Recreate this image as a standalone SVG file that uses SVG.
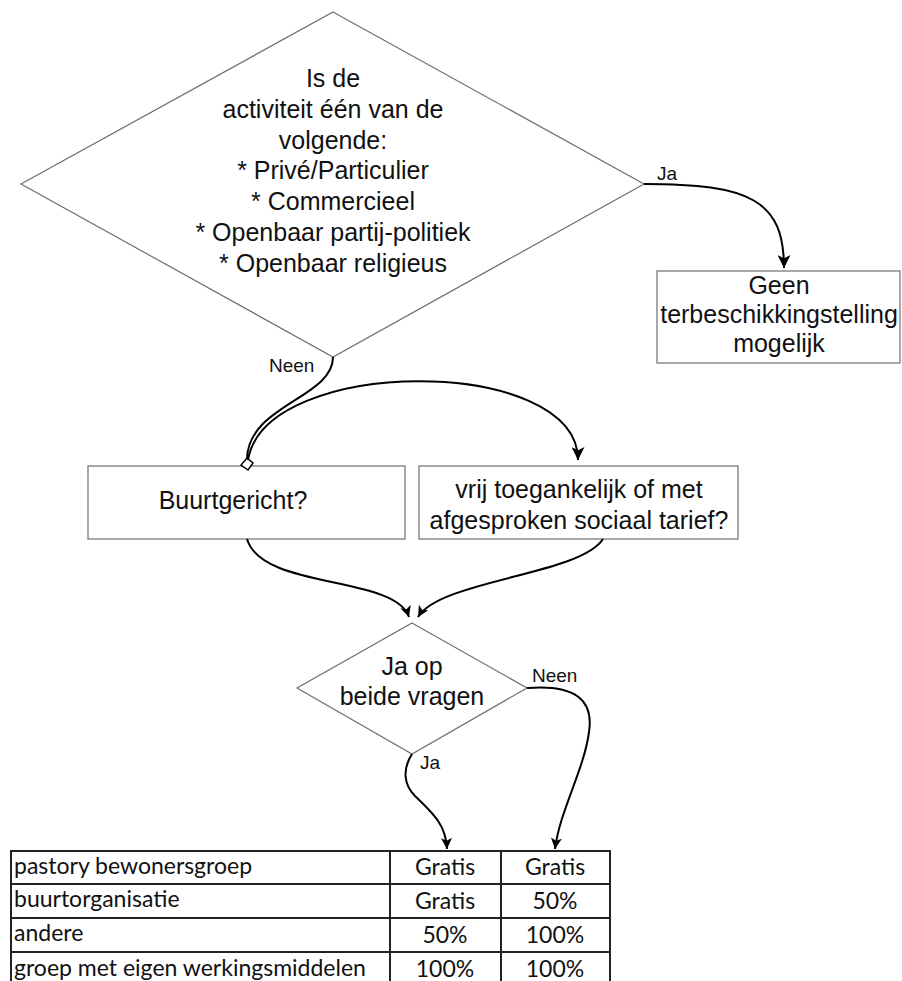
<svg xmlns="http://www.w3.org/2000/svg" width="902" height="981" viewBox="0 0 902 981">
<style>
.node{fill:#fff;stroke:#6e6e6e;stroke-width:1.2}
.t{font-family:"Liberation Sans",Arial,sans-serif;font-size:25px;fill:#111;text-anchor:middle}
.lbl{font-family:"Liberation Sans",Arial,sans-serif;font-size:19px;fill:#111}
.edge{fill:none;stroke:#000;stroke-width:2}
.tb{fill:none;stroke:#222;stroke-width:2}
.tt{font-family:Lato,"Open Sans",sans-serif;font-size:23px;fill:#111}
.tc{text-anchor:middle}
</style>
<defs>
<marker id="arr" viewBox="0 0 12 12" refX="12" refY="6" markerWidth="13" markerHeight="13" markerUnits="userSpaceOnUse" orient="auto">
<path d="M0,0 L12,6 L0,12 L3,6 z" fill="#000"/>
</marker>
<marker id="arrs" viewBox="0 0 12 12" refX="12" refY="6" markerWidth="11" markerHeight="11" markerUnits="userSpaceOnUse" orient="auto">
<path d="M0,0 L12,6 L0,12 L3,6 z" fill="#000"/>
</marker>
</defs>
<rect width="902" height="981" fill="#fff"/>

<g id="decision-activiteit">
<polygon class="node" points="333,12 644,184 333,357 21,184"/>
<text class="t" x="333" y="87">Is de</text>
<text class="t" x="333" y="118">activiteit één van de</text>
<text class="t" x="333" y="149">volgende:</text>
<text class="t" x="333" y="179">* Privé/Particulier</text>
<text class="t" x="333" y="210">* Commercieel</text>
<text class="t" x="333" y="241">* Openbaar partij-politiek</text>
<text class="t" x="333" y="272">* Openbaar religieus</text>
</g>

<g id="geen-terbeschikkingstelling">
<rect class="node" x="657" y="271" width="243" height="92"/>
<text class="t" x="779" y="294">Geen</text>
<text class="t" x="779" y="323">terbeschikkingstelling</text>
<text class="t" x="779" y="352">mogelijk</text>
</g>

<g id="buurtgericht">
<rect class="node" x="88" y="466" width="317" height="73"/>
<text class="t" x="233" y="509">Buurtgericht?</text>
</g>

<g id="vrij-toegankelijk">
<rect class="node" x="419" y="466" width="319" height="73"/>
<text class="t" x="579" y="498">vrij toegankelijk of met</text>
<text class="t" x="579" y="529">afgesproken sociaal tarief?</text>
</g>

<g id="decision-beide">
<polygon class="node" points="412,623 527,688 412,754 297,688"/>
<text class="t" x="412" y="675">Ja op</text>
<text class="t" x="412" y="705">beide vragen</text>
</g>

<g id="connectors">
<path class="edge" d="M644,184 C750,184 784,200 784,268" marker-end="url(#arr)"/>
<text class="lbl" x="657" y="180">Ja</text>
<path class="edge" d="M333,357 C333,398 248,405 247,459"/>
<polygon points="247,458 253,463 248,470 241,465" fill="#fff" stroke="#000" stroke-width="1.5"/>
<text class="lbl" x="269" y="372">Neen</text>
<path class="edge" d="M248,460 C265,355 578,355 578,460" marker-end="url(#arr)"/>
<path class="edge" d="M247,539 C262,590 395,575 409,617" marker-end="url(#arrs)"/>
<path class="edge" d="M603,539 C580,575 440,580 418,617" marker-end="url(#arrs)"/>
<path class="edge" d="M527,688 C575,684 594,700 589,732 C584,770 560,810 555,849" marker-end="url(#arrs)"/>
<text class="lbl" x="532" y="682">Neen</text>
<path class="edge" d="M412,754 C402,770 404,785 415,796 C435,815 446,826 447,849" marker-end="url(#arrs)"/>
<text class="lbl" x="420" y="769">Ja</text>
</g>

<g id="tarief-tabel">
<rect class="tb" x="11" y="851" width="599" height="136"/>
<line class="tb" x1="11" y1="884" x2="610" y2="884"/>
<line class="tb" x1="11" y1="918" x2="610" y2="918"/>
<line class="tb" x1="11" y1="952" x2="610" y2="952"/>
<line class="tb" x1="390" y1="851" x2="390" y2="987"/>
<line class="tb" x1="501" y1="851" x2="501" y2="987"/>
<text class="tt" x="14" y="874">pastory bewonersgroep</text>
<text class="tt" x="14" y="907">buurtorganisatie</text>
<text class="tt" x="14" y="941">andere</text>
<text class="tt" x="14" y="976">groep met eigen werkingsmiddelen</text>
<text class="tt tc" x="445" y="875">Gratis</text>
<text class="tt tc" x="555" y="875">Gratis</text>
<text class="tt tc" x="445" y="909">Gratis</text>
<text class="tt tc" x="555" y="909">50%</text>
<text class="tt tc" x="445" y="943">50%</text>
<text class="tt tc" x="555" y="943">100%</text>
<text class="tt tc" x="445" y="977">100%</text>
<text class="tt tc" x="555" y="977">100%</text>
</g>
</svg>
